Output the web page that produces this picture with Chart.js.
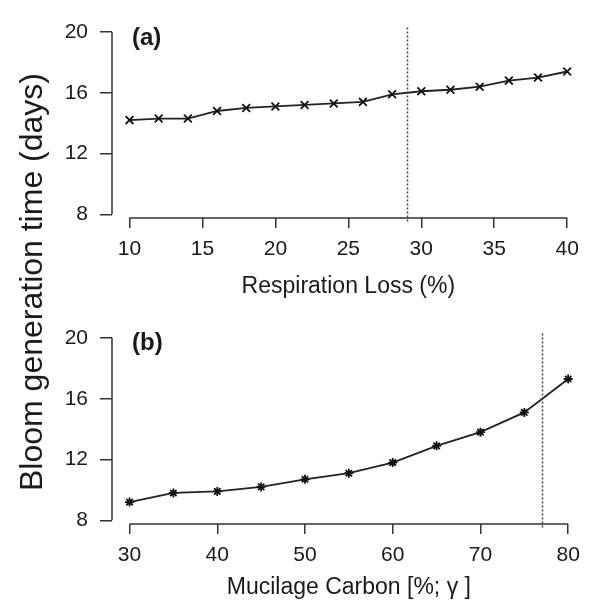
<!DOCTYPE html>
<html>
<head>
<meta charset="utf-8">
<script src="https://cdn.jsdelivr.net/npm/chart.js@4.4.1/dist/chart.umd.min.js"></script>
<style>
  html, body { margin: 0; padding: 0; background: #fff; }
  #wrap { position: relative; width: 592px; height: 613px; overflow: hidden; }
  #ca { position: absolute; left: 0; top: 0; }
  #cb { position: absolute; left: 0; top: 306px; }
  #ytitle {
    position: absolute; left: 31px; top: 282px;
    transform: translate(-50%, -50%) rotate(-90deg);
    font: 32px "Liberation Sans", Arial, sans-serif; line-height: 1;
    color: #1a1a1a; white-space: nowrap;
  }
</style>
</head>
<body>
<div id="wrap">
  <canvas id="ca" width="592" height="306"></canvas>
  <canvas id="cb" width="592" height="307"></canvas>
  <div id="ytitle">Bloom generation time (days)</div>
</div>
<script>
// ── data ─────────────────────────────────────────────────────
const respX = [10, 12, 14, 16, 18, 20, 22, 24, 26, 28, 30, 32, 34, 36, 38, 40]
const respY = [14.2, 14.3, 14.3, 14.8, 15.0, 15.1, 15.2, 15.3, 15.4, 15.9, 16.1, 16.2, 16.4, 16.8, 17.0, 17.4]
const respTicks = [10, 15, 20, 25, 30, 35, 40]
const respMark = 29

const mucX = [30, 35, 40, 45, 50, 55, 60, 65, 70, 75, 80]
const mucY = [9.2, 9.8, 9.9, 10.2, 10.7, 11.1, 11.8, 12.9, 13.8, 15.1, 17.3]
const mucTicks = [30, 40, 50, 60, 70, 80]
const mucMark = 77

const yTicks = [8, 12, 16, 20]

const FONT = '"Liberation Sans", Arial, sans-serif'
const INK  = '#1a1a1a'
const AXC  = '#333'

// R-style detached axes, dotted marker line, panel tag
const rAxes = {
  id: 'rAxes',
  afterDraw(chart, args, o) {
    const { ctx, chartArea: a, scales: { x, y } } = chart
    ctx.save()
    ctx.strokeStyle = AXC
    ctx.lineWidth = 1.5
    ctx.beginPath()
    ctx.moveTo(a.left, y.getPixelForValue(yTicks[0]))
    ctx.lineTo(a.left, y.getPixelForValue(yTicks[yTicks.length - 1]))
    ctx.moveTo(x.getPixelForValue(o.xt[0]), a.bottom)
    ctx.lineTo(x.getPixelForValue(o.xt[o.xt.length - 1]), a.bottom)
    ctx.stroke()

    const vx = Math.round(x.getPixelForValue(o.mark)) + 0.5
    ctx.strokeStyle = '#444'
    ctx.setLineDash([2, 2])
    ctx.beginPath()
    ctx.moveTo(vx, a.top + o.dashTop)
    ctx.lineTo(vx, a.bottom + 4)
    ctx.stroke()
    ctx.setLineDash([])

    ctx.fillStyle = INK
    ctx.font = 'bold 24px ' + FONT
    ctx.textBaseline = 'middle'
    ctx.textAlign = 'left'
    ctx.fillText(o.tag, 132, o.tagY)
    ctx.restore()
  },
}

function panel(id, xs, ys, xt, xmin, xmax, mark, style, radius, title, xh, padB, tag, tagY, dashTop) {
  return new Chart(document.getElementById(id), {
    type: 'line',
    data: {
      datasets: [{
        data: xs.map((v, i) => ({ x: v, y: ys[i] })),
        borderColor: '#222',
        borderWidth: 1.8,
        pointStyle: style,
        pointRadius: radius,
        pointBorderColor: '#111',
        pointBorderWidth: 1.8,
        pointBackgroundColor: '#111',
        tension: 0,
        fill: false,
      }],
    },
    options: {
      responsive: false, maintainAspectRatio: false, animation: false,
      devicePixelRatio: 1,
      layout: { padding: { left: 0, right: 4, top: 9, bottom: padB } },
      scales: {
        x: {
          type: 'linear', min: xmin, max: xmax,
          afterBuildTicks: s => { s.ticks = xt.map(v => ({ value: v })) },
          afterFit: s => { s.height = xh },
          grid: { display: true, drawOnChartArea: false, drawTicks: true, tickLength: 10, color: AXC, lineWidth: 1.5 },
          border: { display: false },
          ticks: { autoSkip: false, maxRotation: 0, padding: 9, color: INK, font: { size: 21, family: FONT } },
          title: { display: true, text: title, color: INK, padding: 0, font: { size: 23, family: FONT } },
        },
        y: {
          min: 8 - 4 / 16.42, max: 20 + 8 / 16.42,
          afterBuildTicks: s => { s.ticks = yTicks.map(v => ({ value: v })) },
          afterFit: s => { s.width = 112 },
          grid: { display: true, drawOnChartArea: false, drawTicks: true, tickLength: 12, color: AXC, lineWidth: 1.5 },
          border: { display: false },
          ticks: { autoSkip: false, padding: 12, color: INK, font: { size: 21, family: FONT } },
        },
      },
      plugins: {
        legend: { display: false },
        tooltip: { enabled: false },
        rAxes: { xt, mark, tag, tagY, dashTop },
      },
    },
    plugins: [rAxes],
  })
}

panel('ca', respX, respY, respTicks, 8.8, 41.2, respMark, 'crossRot', 5.5,
  'Respiration Loss (%)', 82.8, 5.2, '(a)', 38.5, 3)
panel('cb', mucX, mucY, mucTicks, 28, 82, mucMark, 'star', 4.5,
  'Mucilage Carbon [%; \u03b3 ]', 77.3, 11.7, '(b)', 37, 3)
</script>
</body>
</html>
